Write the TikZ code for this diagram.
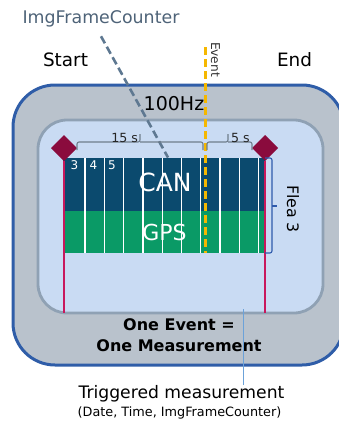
\documentclass[tikz,border=0pt]{standalone}
\usepackage{fontspec}
\setmainfont{DejaVu Sans}
\usetikzlibrary{arrows.meta,positioning,shapes.geometric}
\definecolor{cOuter}  {HTML}{B9C2CC}
\definecolor{cOuterLn}{HTML}{2F5DA8}
\definecolor{cInner}  {HTML}{C9DBF3}
\definecolor{cInnerLn}{HTML}{8FA1B4}
\definecolor{cCan}    {HTML}{0B4A6E}
\definecolor{cGps}    {HTML}{0A9A66}
\definecolor{cMark}   {HTML}{8A0B3D}
\definecolor{cWin}    {HTML}{C8185C}
\definecolor{cEvt}    {HTML}{F5B700}
\definecolor{cCnt}    {HTML}{4E6378}
\definecolor{cCntLn}  {HTML}{5E7891}
\definecolor{cDim}    {HTML}{6F7E8C}
\definecolor{cFlea}   {HTML}{2E5AAC}
\definecolor{cTrig}   {HTML}{6CA2D9}
\tikzset{
  outerbox/.style={draw=cOuterLn,fill=cOuter,line width=3pt,rounded corners=42pt,
                   minimum width=331pt,minimum height=280pt},
  innerbox/.style={draw=cInnerLn,fill=cInner,line width=2.8pt,rounded corners=29pt,
                   minimum width=285pt,minimum height=193pt},
  band/.style    ={minimum width=202pt,inner sep=0pt,text=white},
  sep/.style     ={draw=white,line width=1.3pt},
  cell/.style    ={text=white,font=\fontsize{12}{12}\selectfont,inner sep=0pt},
  winmark/.style ={diamond,fill=cMark,minimum size=26pt,inner sep=0pt},
  win/.style     ={draw=cWin,line width=2pt},
  evt/.style     ={draw=cEvt,line width=3pt,dash pattern=on 8pt off 4pt},
  cntln/.style   ={draw=cCntLn,line width=2.6pt,dash pattern=on 8pt off 4pt},
  dim/.style     ={draw=cDim,line width=1.1pt,rounded corners=2pt},
  flea/.style    ={draw=cFlea,line width=1.1pt,rounded corners=2pt},
  trig/.style    ={draw=cTrig,line width=1pt},
  big/.style     ={font=\fontsize{18.4}{20}\selectfont,inner sep=0pt},
  small/.style   ={font=\fontsize{12.6}{14}\selectfont,inner sep=0pt},
}

\begin{document}
\begin{tikzpicture}[x=1pt,y=-1pt,every node/.style={outer sep=0pt}]
\useasboundingbox (0,0) rectangle (339,423);

\node[outerbox] (outer) at (178.5,225) {};
\node[innerbox] (inner) at (180.5,216.5) {};

\node[band,fill=cCan,minimum height=53pt] (can) at (164,184.5) {};
\node[band,fill=cGps,minimum height=42pt] (gps) at (164,232) {};

\foreach \i in {0,...,9}
  {\draw[sep] ([xshift=22pt+19.3pt*\i]can.north west) -- ([xshift=22pt+19.3pt*\i]gps.south west);}

\foreach \n/\x in {3/74.5,4/93.5,5/112}
  {\node[cell] (c\n) at (\x,165) {\n};}

\node[text=white,font=\fontsize{25}{25}\selectfont,inner sep=0pt] (lcan) at (165,182) {CAN};
\node[text=white,font=\fontsize{22}{22}\selectfont,inner sep=0pt] (lgps) at (164.5,232.5) {GPS};

\coordinate (evTop) at (205,47);
\draw[evt] (evTop) -- (evTop |- gps.south);
\node[small,font=\fontsize{12.2}{13}\selectfont,text=black!80,rotate=-90] (ev) at (215.5,59.5) {Event};

\node[big,font=\fontsize{17.4}{19}\selectfont,text=cCnt] (cnt) at (101,19) {ImgFrameCounter};
\coordinate (cntEnd) at (168,157.5);
\draw[cntln] ([yshift=-9pt]cnt.south) -- (cntEnd);

\node[big] (start) at (65.5,59.5) {Start};
\node[big] (end)   at (294.5,59.5) {End};
\node[big,font=\fontsize{19}{20}\selectfont] (hz) at (174,103.5) {100Hz};

\node[winmark] (ms) at (64,148) {};
\node[winmark] (me) at (265,148) {};
\draw[win] (ms.south) -- (ms.south |- inner.south);
\draw[win] (me.south) -- (me.south |- inner.south);

\draw[dim] (ms.east |- 0,150) |- (140,142) -- (140,134) (140,142) -| (203,150);
\draw[dim] (207,150) |- (228,142) -- (228,134) (228,142) -| (me.west |- 0,150);
\node[small,anchor=south east,text=black!85] (d15) at (138,143) {15 s};
\node[small,anchor=south west,text=black!85] (d5)  at (231,143) {5 s};

\draw[flea] (can.north east) -- ++(7,0) |- (gps.south east);
\draw[flea] (272,206) -- (277,206);
\node[big,font=\fontsize{15.8}{17}\selectfont,rotate=-90] (fl) at (293,209) {Flea 3};

\node[align=center,font=\fontsize{16}{21}\selectfont\bfseries,inner sep=0pt] (one) at (179,335)
  {One Event =\\One Measurement};

\coordinate (trigTop) at (243,309);
\node[big,font=\fontsize{17.2}{19}\selectfont] (trg) at (181.5,393.5) {Triggered measurement};
\node[small,font=\fontsize{12.8}{14}\selectfont] (trgSub) at (179.5,413) {(Date, Time, ImgFrameCounter)};
\draw[trig] (trg.north -| trigTop) -- (trigTop);
\end{tikzpicture}
\end{document}
